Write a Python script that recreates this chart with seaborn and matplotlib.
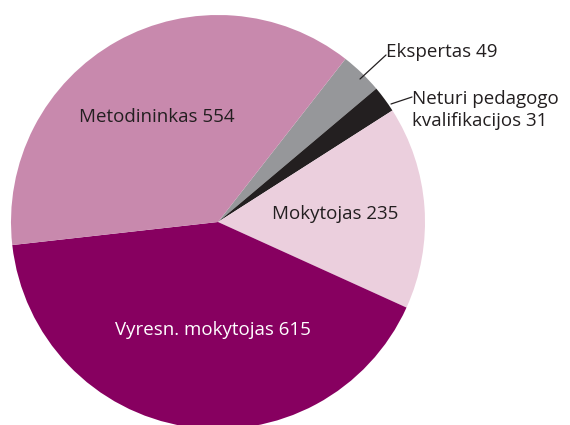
import matplotlib
matplotlib.use("Agg")
import matplotlib.pyplot as plt
import seaborn as sns

sns.set_theme(style="white")
plt.rcParams['font.family'] = ['Open Sans', 'DejaVu Sans']

categories = ["Ekspertas", "Neturi pedagogo\nkvalifikacijos", "Mokytojas", "Vyresn. mokytojas", "Metodininkas"]
values = [49, 31, 235, 615, 554]
colors = ["#96979A", "#231F20", "#EBCFDD", "#870060", "#C889AD"]

fig = plt.figure(figsize=(5.7, 4.25), dpi=100)
ax = fig.add_axes([0, 0, 1, 1])
wedges, _ = ax.pie(values, colors=colors, startangle=52, counterclock=False,
                   radius=1, center=(0, 0), wedgeprops=dict(linewidth=0))
ax.set_xlim(-218/207, (570-218)/207)
ax.set_ylim(-(425-222)/207, 222/207)
ax.set_aspect('auto')
ax.axis('off')

def px(x, y):
    return ((x-218)/207, (222-y)/207)

fs = 13.5
labels = [f"{c} {v}" for c, v in zip(categories, values)]
ax.text(*px(157, 117), labels[4], ha='center', va='center', fontsize=fs, color='#231F20')
ax.text(*px(335, 214), labels[2], ha='center', va='center', fontsize=fs, color='#231F20')
ax.text(*px(213, 330), labels[3], ha='center', va='center', fontsize=fs, color='white')
ax.text(*px(386, 52), labels[0], ha='left', va='center', fontsize=fs, color='#231F20')
ax.text(*px(412, 110), labels[1], ha='left', va='center', fontsize=fs, color='#231F20',
        linespacing=1.25)
ax.plot(*zip(px(360, 79), px(386, 55)), color='#231F20', lw=0.9)
ax.plot(*zip(px(391, 104), px(412, 97)), color='#231F20', lw=0.9)

fig.savefig("out.png", dpi=100)
